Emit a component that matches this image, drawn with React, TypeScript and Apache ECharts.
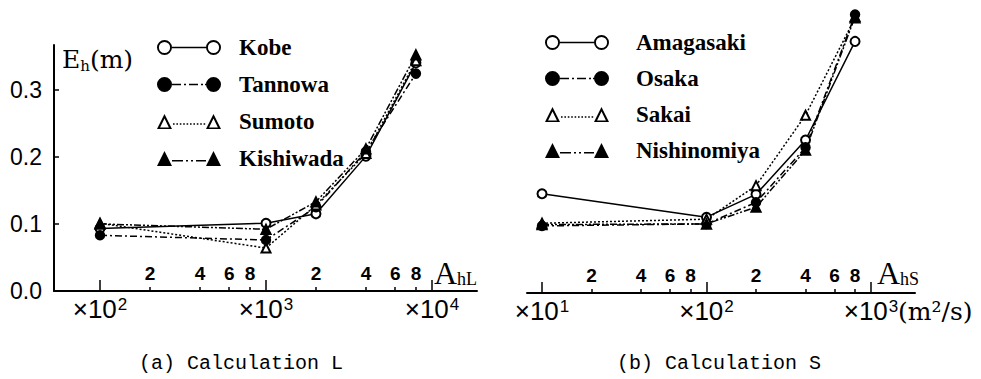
import React, { useEffect, useRef } from 'react';
import * as echarts from 'echarts';

// ---- data ----
const stationsL = ['Kobe', 'Tannowa', 'Sumoto', 'Kishiwada'];
const ahL = [100, 1000, 2000, 4000, 8000];
const kobe = [0.093, 0.101, 0.115, 0.201, 0.34];
const tannowa = [0.083, 0.076, 0.125, 0.208, 0.324];
const sumoto = [0.101, 0.064, 0.128, 0.205, 0.343];
const kishiwada = [0.1, 0.092, 0.133, 0.212, 0.352];

const stationsS = ['Amagasaki', 'Osaka', 'Sakai', 'Nishinomiya'];
const ahS = [10, 100, 200, 400, 800];
const amagasaki = [0.148, 0.113, 0.147, 0.228, 0.375];
const osaka = [0.1, 0.103, 0.135, 0.217, 0.415];
const sakai = [0.104, 0.11, 0.16, 0.265, 0.41];
const nishinomiya = [0.102, 0.103, 0.128, 0.213, 0.412];

const yTicks = [0, 0.1, 0.2, 0.3];
const decadesL = [100, 1000, 10000];
const minorL = [200, 400, 600, 800, 2000, 4000, 6000, 8000];
const decadesS = [10, 100, 1000];
const minorS = [20, 40, 60, 80, 200, 400, 600, 800];

// ---- legend icons ----
const bar = (segs: number[][], y0: number, y1: number) =>
  segs.map(([a, b]) => `M${a} ${y0}H${b}V${y1}H${a}Z`).join('');
const ring = (cx: number) =>
  `M${cx - 7.5} 7.5A7.5 7.5 0 1 1 ${cx + 7.5} 7.5A7.5 7.5 0 1 1 ${cx - 7.5} 7.5Z` +
  `M${cx - 5.6} 7.5A5.6 5.6 0 1 0 ${cx + 5.6} 7.5A5.6 5.6 0 1 0 ${cx - 5.6} 7.5Z`;
const disc = (cx: number) =>
  `M${cx - 7.5} 7.5A7.5 7.5 0 1 1 ${cx + 7.5} 7.5A7.5 7.5 0 1 1 ${cx - 7.5} 7.5Z`;
const triO = (x: number) =>
  `M${x} 15L${x + 7.5} 0L${x + 15} 15Z` + `M${x + 3.1} 13.4L${x + 11.9} 13.4L${x + 7.5} 4.6Z`;
const triF = (x: number) => `M${x} 15L${x + 7.5} 0L${x + 15} 15Z`;

const iconSolidO = 'path://' + ring(7.5) + bar([[15, 49]], 6.8, 8.2) + ring(56.5);
const iconDashDotF = 'path://' + disc(7.5) + bar([[15, 24], [27, 29], [32, 41], [44, 46], [48, 49]], 6.8, 8.2) + disc(56.5);
const iconDotT = 'path://' + triO(0) + bar([[16, 17.6], [19.4, 21], [22.8, 24.4], [26.2, 27.8], [29.6, 31.2], [33, 34.6], [36.4, 38], [39.8, 41.4], [43.2, 44.8], [46.6, 48.2]], 9.2, 10.8) + triO(49);
const iconDashDotDotT = 'path://' + triF(0) + bar([[15, 26], [29, 31], [34, 36], [39, 49]], 8.9, 10.5) + triF(49);

const icons = [iconSolidO, iconDashDotF, iconDotT, iconDashDotDotT];
const symbols = ['emptyCircle', 'circle', 'emptyTriangle', 'triangle'];
const sizes = [9, 9, 9, 10];
const dashes: any[] = ['solid', [7, 3, 2, 3], [2, 2], [7, 2, 2, 2, 2, 2]];

// ---- axis geometry (log10 space) ----
const L_MIN = 1.7229, L_MAX = 4.2711;
const S_MIN = 0.9088, S_MAX = 3.2675;

const lg = (v: number) => Math.log10(v);
const black = '#000';

const decadeLabel = (v: number) => `{m|×10}{s|${Math.round(v)}}`;
const minorLabel = (v: number) => String(Math.round(Math.pow(10, v - Math.floor(v + 1e-9))));

const decadeRich = {
  m: { fontFamily: 'Liberation Sans', fontSize: 26, lineHeight: 26, verticalAlign: 'bottom', color: black },
  s: { fontFamily: 'Liberation Sans', fontSize: 17, lineHeight: 15, padding: [0, 0, 15, 1], verticalAlign: 'top', color: black },
};

function xAxes(grid: number, min: number, max: number, decades: number[], minor: number[]) {
  return [
    {
      type: 'value', gridIndex: grid, position: 'bottom', min, max,
      axisLine: { show: true, onZero: false, lineStyle: { color: black, width: 2 } },
      axisTick: { show: true, inside: true, length: 11, customValues: decades.map(lg), lineStyle: { color: black, width: 1.5 } },
      axisLabel: { show: true, customValues: decades.map(lg), formatter: decadeLabel, rich: decadeRich, margin: 5, color: black },
      splitLine: { show: false },
    },
    {
      type: 'value', gridIndex: grid, position: 'bottom', min, max,
      axisLine: { show: false, onZero: false },
      axisTick: { show: true, inside: true, length: 4, customValues: minor.map(lg), lineStyle: { color: black, width: 1.5 } },
      axisLabel: {
        show: true, inside: true, customValues: minor.map(lg), formatter: minorLabel, margin: 8,
        fontFamily: 'Liberation Sans', fontWeight: 'bold', fontSize: 19, lineHeight: 19, color: black,
      },
      splitLine: { show: false },
    },
  ];
}

function series(names: string[], xs: number[], ys: number[][], xi: number, yi: number) {
  return names.map((name, k) => ({
    type: 'line', name, xAxisIndex: xi, yAxisIndex: yi,
    data: xs.map((x, i) => [lg(x), ys[k][i]]),
    symbol: symbols[k], symbolSize: sizes[k],
    lineStyle: { color: black, width: 1.5, type: dashes[k] },
    itemStyle: { color: black, borderColor: black, borderWidth: 1.5 },
    emphasis: { disabled: true },
  }));
}

function legend(names: string[], left: number, top: number, gap: number, pad: number) {
  return {
    orient: 'vertical', left, top, padding: 0, itemGap: gap, itemWidth: 64, itemHeight: 15,
    selectedMode: false,
    itemStyle: { color: black, borderWidth: 0 },
    formatter: '{n|{name}}',
    textStyle: {
      color: black,
      rich: {
        n: { fontFamily: 'Liberation Serif', fontWeight: 'bold', fontSize: 23, lineHeight: 22, color: black, padding: [0, 0, 0, pad] },
      },
    },
    data: names.map((n, k) => ({ name: n, icon: icons[k] })),
  };
}

export default function App() {
  const ref = useRef<HTMLDivElement>(null);
  useEffect(() => {
    document.body.style.margin = '0';
    const chart = echarts.init(ref.current!, undefined, { renderer: 'svg' });
    const option: any = {
      animation: false,
      backgroundColor: '#fff',
      grid: [
        { left: 54, top: 45, width: 423, height: 246 },
        { left: 527, top: 4.5, width: 388, height: 288.5 },
      ],
      xAxis: [...xAxes(0, L_MIN, L_MAX, decadesL, minorL), ...xAxes(1, S_MIN, S_MAX, decadesS, minorS)],
      yAxis: [
        {
          type: 'value', gridIndex: 0, min: 0, max: 0.3666,
          axisLine: { show: true, onZero: false, lineStyle: { color: black, width: 2 } },
          axisTick: { show: true, inside: true, length: 5, customValues: yTicks, lineStyle: { color: black, width: 1.5 } },
          axisLabel: { show: true, customValues: yTicks, formatter: (v: number) => v.toFixed(1), margin: 12, fontFamily: 'Liberation Sans', fontSize: 23, color: black },
          splitLine: { show: false },
        },
        { type: 'value', gridIndex: 1, min: 0, max: 0.43, show: false },
      ],
      legend: [legend(stationsL, 157, 36, 14, 13), legend(stationsS, 545, 31, 13, 22)],
      series: [
        ...series(stationsL, ahL, [kobe, tannowa, sumoto, kishiwada], 0, 0),
        ...series(stationsS, ahS, [amagasaki, osaka, sakai, nishinomiya], 2, 1),
      ],
      graphic: [
        {
          type: 'text', left: 62, top: 47,
          style: {
            text: '{e|E}{s|h}{e|(m)}',
            rich: {
              e: { fontFamily: 'DejaVu Serif', fontSize: 25, lineHeight: 28, fill: black },
              s: { fontFamily: 'DejaVu Serif', fontSize: 15, lineHeight: 14, verticalAlign: 'bottom', fill: black },
            },
          },
        },
        {
          type: 'text', left: 434, top: 257,
          style: {
            text: '{a|A}{s|hL}',
            rich: {
              a: { fontFamily: 'Liberation Serif', fontSize: 32, lineHeight: 30, fill: black },
              s: { fontFamily: 'Liberation Serif', fontSize: 18, lineHeight: 16, verticalAlign: 'bottom', fill: black },
            },
          },
        },
        {
          type: 'text', left: 877, top: 257,
          style: {
            text: '{a|A}{s|hS}',
            rich: {
              a: { fontFamily: 'Liberation Serif', fontSize: 32, lineHeight: 30, fill: black },
              s: { fontFamily: 'Liberation Serif', fontSize: 18, lineHeight: 16, verticalAlign: 'bottom', fill: black },
            },
          },
        },
        {
          type: 'text', left: 898, top: 299,
          style: { text: '(m²/s)', fontFamily: 'DejaVu Serif', fontSize: 25, fill: black },
        },
        {
          type: 'text', x: 241, y: 363,
          style: { text: '(a) Calculation L', fontFamily: 'Liberation Mono', fontSize: 20, fill: black, align: 'center', verticalAlign: 'middle' },
        },
        {
          type: 'text', x: 719, y: 363,
          style: { text: '(b) Calculation S', fontFamily: 'Liberation Mono', fontSize: 20, fill: black, align: 'center', verticalAlign: 'middle' },
        },
      ],
    };
    chart.setOption(option);
    return () => chart.dispose();
  }, []);
  return <div ref={ref} style={{ position: 'absolute', left: 0, top: 0, width: 981, height: 379 }} />;
}
